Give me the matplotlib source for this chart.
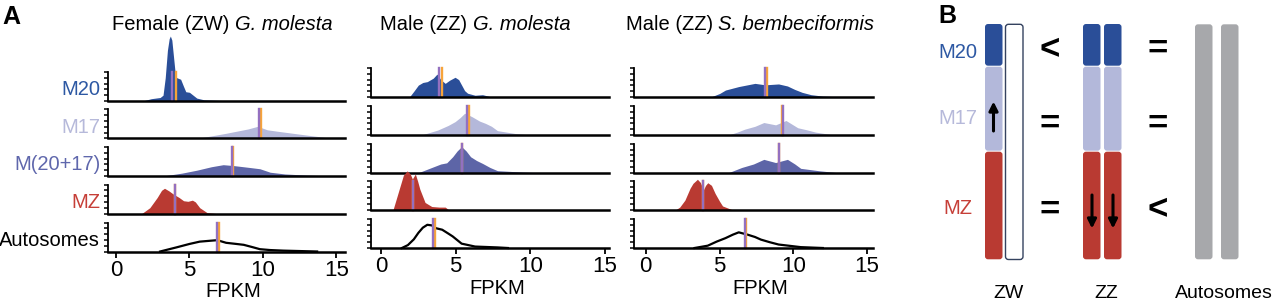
import matplotlib
matplotlib.use('Agg')
import matplotlib.pyplot as plt
from matplotlib.patches import FancyBboxPatch
import numpy as np

plt.rcParams['font.family'] = 'Liberation Sans'

# ---- data (FPKM vs. scaled density) ----
tracks = ['M20', 'M17', 'M(20+17)', 'MZ', 'Autosomes']

# Female (ZW) G. molesta
fem_m20_x = [1.8, 2.4, 3.0, 3.2, 3.35, 3.5, 3.62, 3.7, 3.8, 3.92, 4.05, 4.15, 4.4, 4.6, 4.75, 5.0, 5.2, 5.5, 6.0, 7.0, 8.5]
fem_m20_y = [0.0, 0.08, 0.12, 0.2, 0.8, 1.75, 2.15, 2.24, 2.1, 1.5, 0.85, 0.8, 0.75, 0.5, 0.32, 0.3, 0.22, 0.1, 0.04, 0.02, 0.0]
fem_m17_x = [5.5, 7.5, 9.0, 9.65, 10.3, 11.0, 12.5, 14.8]
fem_m17_y = [0.0, 0.18, 0.33, 0.42, 0.3, 0.25, 0.15, 0.0]
fem_mc_x = [3.2, 4.5, 5.5, 6.5, 7.3, 8.0, 9.0, 9.8, 10.5, 11.5, 13.0, 14.8]
fem_mc_y = [0.0, 0.1, 0.2, 0.32, 0.39, 0.36, 0.3, 0.25, 0.13, 0.07, 0.03, 0.0]
fem_mz_x = [1.75, 2.3, 2.8, 3.1, 3.3, 3.6, 3.9, 4.3, 4.6, 4.9, 5.2, 5.4, 5.7, 6.2, 6.8]
fem_mz_y = [0.0, 0.2, 0.55, 0.8, 0.87, 0.78, 0.67, 0.55, 0.44, 0.42, 0.46, 0.4, 0.2, 0.03, 0.0]
fem_au_x = [3.0, 4.1, 5.0, 5.7, 6.4, 6.9, 7.5, 8.2, 8.7, 9.3, 9.8, 10.5, 11.4, 13.7]
fem_au_y = [0.0, 0.14, 0.26, 0.34, 0.37, 0.39, 0.3, 0.26, 0.23, 0.15, 0.08, 0.05, 0.03, 0.0]
fem_purple = [3.8, 9.73, 7.9, 4.0, 6.85]
fem_orange = [4.07, 9.85, 8.0, 4.0, 7.0]

# Male (ZZ) G. molesta
mg_m20_x = [1.9, 2.2, 2.5, 2.8, 3.1, 3.5, 3.75, 4.0, 4.3, 4.6, 4.96, 5.2, 5.4, 5.6, 5.8, 6.3, 6.8, 7.4]
mg_m20_y = [0.0, 0.2, 0.41, 0.5, 0.53, 0.65, 0.79, 0.6, 0.47, 0.58, 0.68, 0.6, 0.41, 0.22, 0.13, 0.06, 0.08, 0.0]
mg_m17_x = [2.7, 3.8, 4.5, 4.96, 5.3, 5.6, 5.9, 6.1, 6.6, 7.0, 7.4, 7.8, 9.0, 10.0]
mg_m17_y = [0.0, 0.17, 0.33, 0.46, 0.6, 0.75, 0.68, 0.63, 0.48, 0.4, 0.3, 0.15, 0.05, 0.0]
mg_mc_x = [2.5, 3.5, 4.0, 4.4, 4.8, 5.1, 5.4, 5.7, 6.0, 6.4, 6.8, 7.3, 7.8, 9.5, 10.5]
mg_mc_y = [0.0, 0.2, 0.3, 0.34, 0.55, 0.75, 0.9, 0.75, 0.55, 0.42, 0.32, 0.18, 0.07, 0.02, 0.0]
mg_mz_x = [0.8, 1.15, 1.5, 1.75, 1.95, 2.1, 2.3, 2.45, 2.6, 2.95, 3.4, 3.9, 4.3, 4.5, 5.5]
mg_mz_y = [0.0, 0.6, 1.2, 1.35, 1.25, 1.07, 1.24, 1.0, 0.72, 0.26, 0.12, 0.1, 0.1, 0.02, 0.0]
mg_au_x = [1.4, 1.8, 2.2, 2.5, 2.8, 3.1, 3.4, 3.7, 4.1, 4.5, 4.8, 5.4, 6.3, 7.8, 8.5]
mg_au_y = [0.0, 0.1, 0.3, 0.52, 0.7, 0.8, 0.78, 0.68, 0.63, 0.5, 0.4, 0.15, 0.05, 0.02, 0.0]
mg_purple = [3.9, 5.76, 5.4, 2.15, 3.5]
mg_orange = [4.1, 5.9, 5.4, 2.15, 3.6]

# Male (ZZ) S. bembeciformis
ms_m20_x = [4.4, 5.0, 5.4, 6.3, 7.4, 8.1, 9.0, 9.6, 10.1, 10.6, 11.2, 12.0, 13.5]
ms_m20_y = [0.0, 0.12, 0.24, 0.36, 0.47, 0.42, 0.45, 0.38, 0.26, 0.16, 0.08, 0.03, 0.0]
ms_m17_x = [5.6, 6.2, 6.7, 7.4, 8.0, 8.8, 9.5, 10.3, 10.9, 11.5, 12.5, 13.5]
ms_m17_y = [0.0, 0.1, 0.2, 0.3, 0.43, 0.35, 0.5, 0.25, 0.18, 0.1, 0.02, 0.0]
ms_mc_x = [5.6, 6.5, 7.3, 8.0, 8.8, 9.6, 10.1, 10.5, 11.7, 13.0]
ms_mc_y = [0.0, 0.18, 0.3, 0.46, 0.35, 0.46, 0.3, 0.15, 0.07, 0.0]
ms_mz_x = [2.0, 2.3, 2.65, 3.0, 3.2, 3.5, 3.7, 3.9, 4.05, 4.2, 4.45, 4.7, 5.0, 5.2, 5.8, 6.3]
ms_mz_y = [0.0, 0.1, 0.34, 0.75, 0.92, 1.06, 0.95, 0.69, 0.85, 0.94, 0.85, 0.57, 0.3, 0.14, 0.02, 0.0]
ms_au_x = [3.3, 4.2, 4.8, 5.4, 5.9, 6.3, 6.9, 7.4, 7.8, 8.4, 9.0, 10.5, 12.0]
ms_au_y = [0.0, 0.08, 0.22, 0.34, 0.46, 0.54, 0.46, 0.38, 0.29, 0.2, 0.12, 0.03, 0.0]
ms_purple = [8.1, 9.3, 9.05, 3.9, 6.75]
ms_orange = [8.2, 9.2, 9.05, 3.9, 6.8]

title_plain = ['Female (ZW) ', 'Male (ZZ) ', 'Male (ZZ) ']
title_ital = ['G. molesta', 'G. molesta', 'S. bembeciformis']
xticks = [0, 5, 10, 15]

# ---- colours ----
fill_cols = ['#2a4e98', '#b4b8da', '#5d65a7', '#b93a32', None]
label_cols = ['#2d58a3', '#b6b9da', '#5f67ac', '#c63f38', 'black']
purple = '#9470c0'
orange = '#f7a43a'
lav = '#b3b8da'
gray = '#a7a8ab'

W, H = 1280, 306
fig = plt.figure(figsize=(W / 100, H / 100), dpi=100)
renderer = fig.canvas.get_renderer()


def rect(left, right, base, height=29):
    return [left / W, 1 - base / H, (right - left) / W, height / H]


columns = [
    (list(zip([fem_m20_x, fem_m17_x, fem_mc_x, fem_mz_x, fem_au_x],
              [fem_m20_y, fem_m17_y, fem_mc_y, fem_mz_y, fem_au_y])), fem_purple, fem_orange),
    (list(zip([mg_m20_x, mg_m17_x, mg_mc_x, mg_mz_x, mg_au_x],
              [mg_m20_y, mg_m17_y, mg_mc_y, mg_mz_y, mg_au_y])), mg_purple, mg_orange),
    (list(zip([ms_m20_x, ms_m17_x, ms_mc_x, ms_mz_x, ms_au_x],
              [ms_m20_y, ms_m17_y, ms_mc_y, ms_mz_y, ms_au_y])), ms_purple, ms_orange),
]
lefts = [108, 371, 634]
rights = [345, 609, 873]
bases = [[101, 138.5, 176, 213.5, 251.5],
         [97, 135, 172.7, 210, 248],
         [97, 135, 172.7, 210, 248]]
xlims = [(-0.55, 15.6), (-0.67, 15.27), (-0.8, 15.4)]
title_x = [222, 475, 750]

for c, (dens, pur, ora) in enumerate(columns):
    for r, (xs, ys) in enumerate(dens):
        ax = fig.add_axes(rect(lefts[c], rights[c], bases[c][r]))
        ax.patch.set_alpha(0)
        if fill_cols[r] is None:
            ax.plot(xs, ys, color='black', lw=1.6, clip_on=False, zorder=2)
        else:
            ax.fill_between(xs, 0, ys, color=fill_cols[r], lw=0, clip_on=False, zorder=2)
        ax.plot([ora[r], ora[r]], [0, 1.0], color=orange, lw=1.7, clip_on=False, zorder=3)
        ax.plot([pur[r], pur[r]], [0, 1.0], color=purple, lw=1.7, clip_on=False, zorder=4)
        ax.set_xlim(*xlims[c])
        ax.set_ylim(0, 1)
        for s in ['top', 'right']:
            ax.spines[s].set_visible(False)
        ax.spines['left'].set_linewidth(1.3)
        ax.spines['bottom'].set_linewidth(1.8)
        ax.spines['bottom'].set_zorder(5)
        ax.set_yticks(np.linspace(0, 1, 6))
        ax.set_yticklabels([])
        ax.tick_params(axis='y', length=3, width=1.1)
        if r == 4:
            ax.set_xticks(xticks)
            ax.tick_params(axis='x', length=4.5, width=1.3, labelsize=16, pad=1.5)
            ax.set_xlabel('FPKM', fontsize=14.5, labelpad=1, x=0.53)
        else:
            ax.set_xticks([])
        if c == 0:
            ax.text(-0.033, 0.38, tracks[r], transform=ax.transAxes, ha='right', va='center',
                    fontsize=14.5, color=label_cols[r])

    # title: plain part followed by italic species name, centred as one line
    t1 = fig.text(0, 1 - 25 / H, title_plain[c], ha='left', va='center', fontsize=14.5)
    t2 = fig.text(0, 1 - 25 / H, title_ital[c], ha='left', va='center', fontsize=14.5,
                  style='italic')
    w1 = t1.get_window_extent(renderer).width
    w2 = t2.get_window_extent(renderer).width
    x0 = title_x[c] - (w1 + w2) / 2
    t1.set_x(x0 / W)
    t2.set_x((x0 + w1) / W)

fig.text(11 / W, 1 - 17 / H, 'A', ha='center', va='center', fontsize=18, fontweight='bold')
fig.text(947 / W, 1 - 16 / H, 'B', ha='center', va='center', fontsize=18, fontweight='bold')

# ---- panel B schematic ----
bx = fig.add_axes([0, 0, 1, 1], zorder=-1)
bx.set_xlim(0, W)
bx.set_ylim(H, 0)
bx.set_axis_off()

seg_top = [24, 66.7, 151.7]
seg_bot = [65.7, 150.7, 259.3]
seg_col = [fill_cols[0], lav, fill_cols[3]]
z_left = [985, 1083, 1104]
chrom_w = 17.5


def rbox(x, y0, y1, fc, ec='none', lw=0):
    bx.add_patch(FancyBboxPatch((x, y0), chrom_w, y1 - y0,
                                boxstyle='round,pad=0,rounding_size=3',
                                fc=fc, ec=ec, lw=lw))


for x in z_left:
    for t, b, col in zip(seg_top, seg_bot, seg_col):
        rbox(x, t, b, col)
rbox(1005.5, 24.3, 259.5, 'white', ec='#34425f', lw=1.0)
for x in [1195, 1221]:
    rbox(x, 24.3, 259.3, gray)

for lab, y, col in zip(['M20', 'M17', 'MZ'], [52, 119, 208],
                       [label_cols[0], label_cols[1], label_cols[3]]):
    bx.text(958, y, lab, ha='center', va='center', fontsize=14.5, color=col)

for sym, y in zip(['<', '=', '='], [49.5, 124, 210]):
    bx.text(1050, y, sym, ha='center', va='center', fontsize=25, fontweight='bold')
for sym, y in zip(['=', '=', '<'], [49, 124, 209.5]):
    bx.text(1158, y, sym, ha='center', va='center', fontsize=25, fontweight='bold')

arrow = dict(arrowstyle='-|>', lw=2.2, color='black', mutation_scale=13, shrinkA=0, shrinkB=0)
bx.annotate('', xy=(993.5, 101.5), xytext=(993.5, 131), arrowprops=arrow)
for x in [1092, 1113]:
    bx.annotate('', xy=(x, 228.5), xytext=(x, 195), arrowprops=arrow)

for lab, x in zip(['ZW', 'ZZ', 'Autosomes'], [1008, 1106, 1224]):
    bx.text(x, 293, lab, ha='center', va='center', fontsize=14)

fig.savefig('out.png', dpi=100)
